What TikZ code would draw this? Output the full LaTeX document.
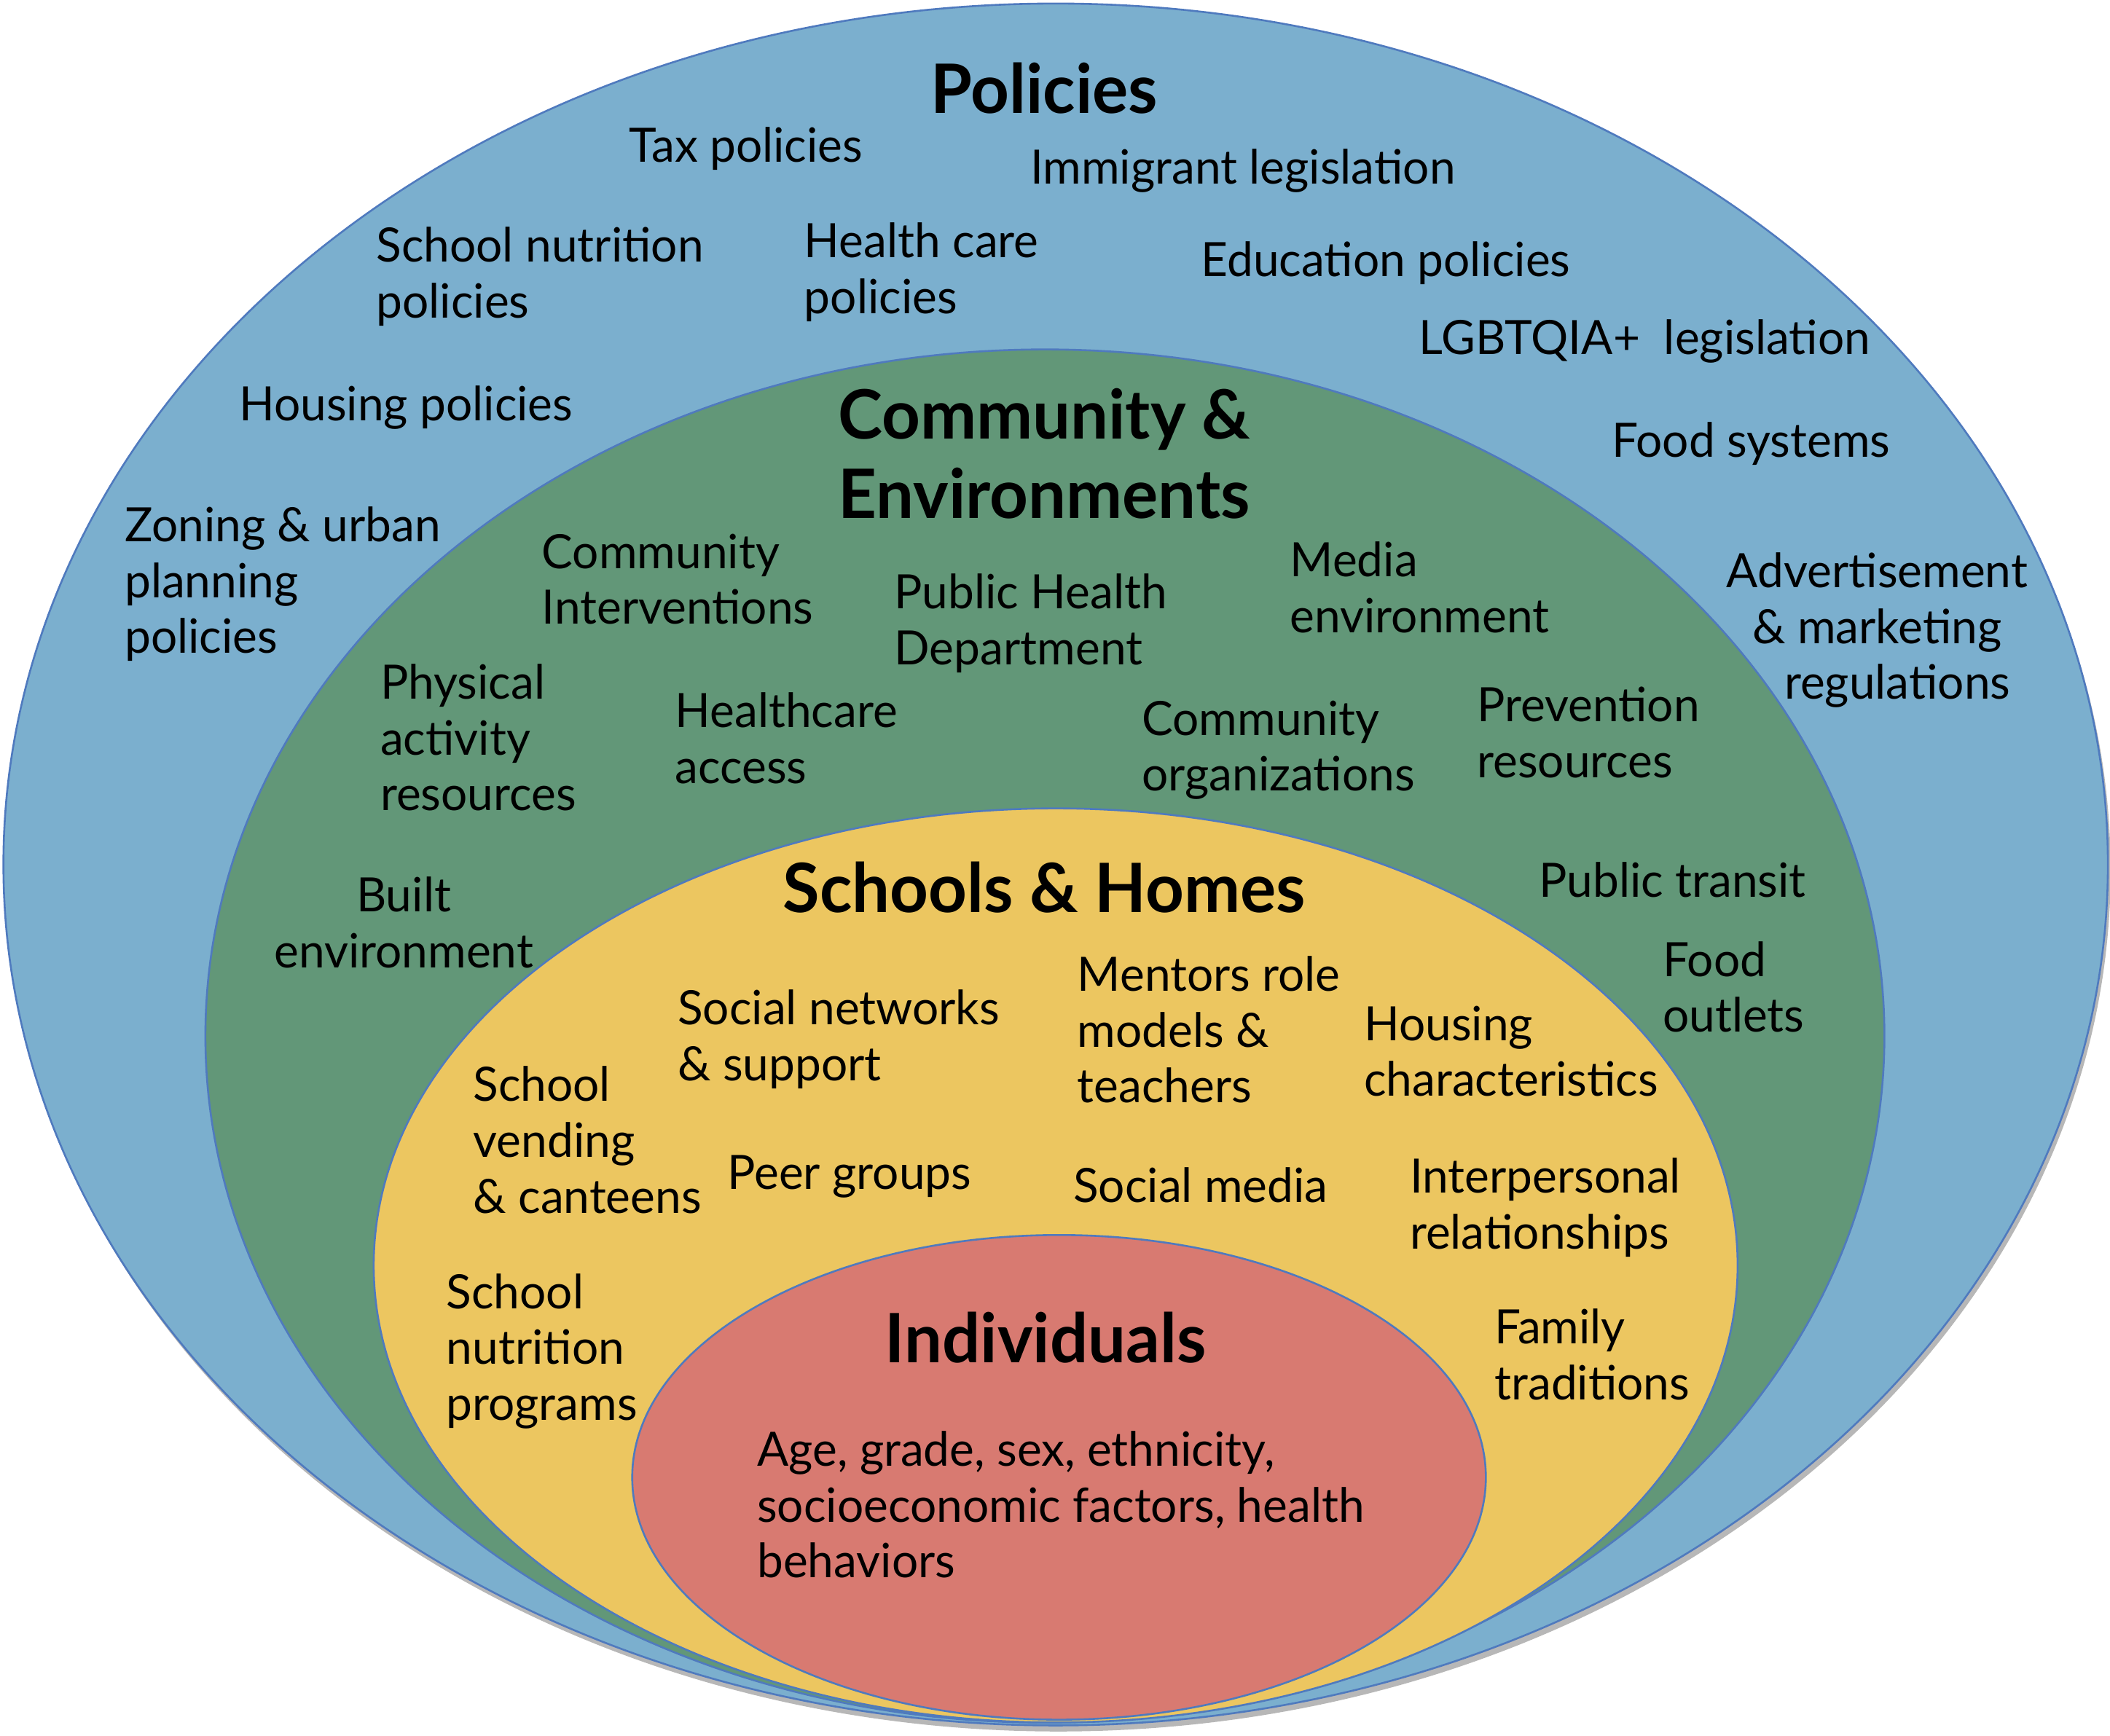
\documentclass[tikz,border=0pt]{standalone}
\usepackage{fontspec}
\setmainfont{Lato}[FakeStretch=0.985]
\definecolor{polblue}{RGB}{123,175,206}
\definecolor{comgreen}{RGB}{98,151,120}
\definecolor{homeyellow}{RGB}{236,198,96}
\definecolor{indred}{RGB}{216,122,113}
\definecolor{ringline}{RGB}{79,122,190}
\begin{document}
\begin{tikzpicture}[x=0.01cm,y=-0.01cm,
  lbl/.style={font=\fontsize{10}{11.8}\selectfont,align=left,inner sep=0pt,anchor=north west},
  hdr/.style={font=\fontsize{14.4}{16.8}\selectfont\bfseries,align=center,inner sep=0pt},
  ring/.style={draw=ringline,line width=0.4pt}]
  \useasboundingbox (0,0) rectangle (1568,1290);
  % rings, outer to inner
  \fill[gray!80,opacity=0.7] (786.5,647) ellipse [x radius=7.815cm,y radius=6.395cm];
  \draw[ring,fill=polblue] (784.5,642.5) ellipse [x radius=7.815cm,y radius=6.395cm];
  \draw[ring,fill=comgreen] (776.5,770) ellipse [x radius=6.235cm,y radius=5.10cm];
  \draw[ring,fill=homeyellow] (784.5,940.5) ellipse [x radius=5.065cm,y radius=3.395cm];
  \draw[ring,fill=indred] (787,1098) ellipse [x radius=3.17cm,y radius=1.80cm];
  % headings
  \node[hdr,anchor=base] (pol) at (776,84) {Policies};
  \node[hdr,anchor=north] (com) at (776,288) {Community \&\\Environments};
  \node[hdr,anchor=base] (sch) at (776,678) {Schools \& Homes};
  \node[hdr,anchor=base] (ind) at (777,1013) {Individuals};
  % policies
  \node[lbl] (tax) at (467,94) {Tax policies};
  \node[lbl] (immig) at (765,110) {Immigrant legislation};
  \node[lbl] (schnut) at (279,168) {School nutrition\\policies};
  \node[lbl] (hcare) at (597,165) {Health care\\policies};
  \node[lbl] (educ) at (892,179) {Education policies};
  \node[lbl] (lgbt) at (1054,237) {LGBTQIA+\ \ legislation};
  \node[lbl] (housing) at (177,286) {Housing policies};
  \node[lbl] (foodsys) at (1197,313) {Food systems};
  \node[lbl] (zoning) at (92,376) {Zoning \& urban\\planning\\policies};
  \node[lbl,align=center,anchor=north] (advert) at (1395,410) {Advertisement\\\& marketing\\\hspace*{0.3cm}regulations};
  % community & environments
  \node[lbl] (cominter) at (402,396) {Community\\Interventions};
  \node[lbl] (phd) at (664,426) {Public Health\\Department};
  \node[lbl] (media) at (958,402) {Media\\environment};
  \node[lbl] (physact) at (282,493) {Physical\\activity\\resources};
  \node[lbl] (hcaccess) at (501,514) {Healthcare\\access};
  \node[lbl] (comorg) at (848,520) {Community\\organizations};
  \node[lbl] (prev) at (1097,510) {Prevention\\resources};
  \node[lbl,align=center,anchor=north] (built) at (300,651) {Built\\environment};
  \node[lbl] (transit) at (1143,640) {Public transit};
  \node[lbl] (foodout) at (1235,699) {Food\\outlets};
  % schools & homes
  \node[lbl] (socnet) at (503,735) {Social networks\\\& support};
  \node[lbl] (mentors) at (800,710) {Mentors role\\models \&\\teachers};
  \node[lbl] (houschar) at (1013,747) {Housing\\characteristics};
  \node[lbl] (vending) at (351,792) {School\\vending\\\& canteens};
  \node[lbl] (peer) at (540,858) {Peer groups};
  \node[lbl] (socmed) at (797,867) {Social media};
  \node[lbl] (interp) at (1047,860) {Interpersonal\\relationships};
  \node[lbl] (nutprog) at (331,946) {School\\nutrition\\programs};
  \node[lbl] (family) at (1110,972) {Family\\traditions};
  % individuals
  \node[lbl] (traits) at (562,1063) {Age, grade, sex, ethnicity,\\socioeconomic factors, health\\behaviors};
\end{tikzpicture}
\end{document}
